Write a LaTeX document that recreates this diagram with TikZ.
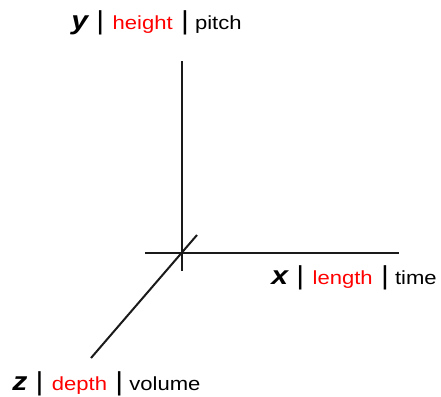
\documentclass[tikz,border=0pt]{standalone}
\usepackage{fontspec}
\setmainfont{Liberation Sans}
\usetikzlibrary{positioning}
\definecolor{ink}{HTML}{1A1A1A}
\definecolor{accent}{HTML}{FF0000}
\newcommand{\axislabel}[3]{%
  \scalebox{1.16}[1]{%
  {\fontsize{19.5}{22}\selectfont\bfseries\itshape #1}%
  {\fontsize{19.5}{22}\selectfont\ |\ }%
  {\fontsize{14.25}{16}\selectfont\textcolor{accent}{#2}}%
  {\fontsize{19.5}{22}\selectfont\ |}%
  {\fontsize{14.25}{16}\selectfont\ #3}}%
}

\begin{document}
\begin{tikzpicture}[x=0.75pt,y=-0.75pt,
  axis/.style={ink,line width=1.5pt},
  lbl/.style={anchor=base west,inner sep=0pt}]
  \path[use as bounding box] (0,0) rectangle (441,396);

  % axes meet here
  \coordinate (O) at (181.5,252.5);
  \coordinate (ytop) at (181.5,61);
  \coordinate (ybot) at (181.5,271);
  \coordinate (xl) at (145,252.5);
  \coordinate (xr) at (398.5,252.5);
  \coordinate (zb) at (197,235);
  \coordinate (zf) at (91,358);
  \draw[axis] (ytop) -- (ybot);
  \draw[axis] (xl) -- (xr);
  \draw[axis] (zb) -- (zf);

  \node[lbl] (ylabel) at (71,29.5) {\axislabel{y}{height}{pitch}};
  \node[lbl] (xlabel) at (271,284) {\axislabel{x}{length}{time}};
  \node[lbl] (zlabel) at (12,390) {\axislabel{z}{depth}{volume}};
\end{tikzpicture}
\end{document}
